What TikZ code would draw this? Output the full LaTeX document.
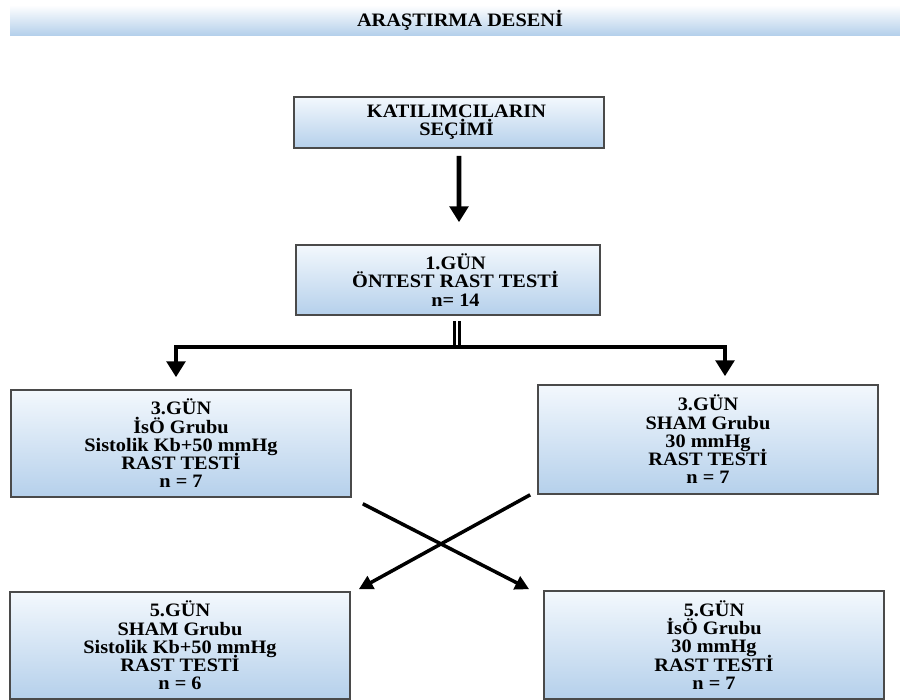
\documentclass[tikz,border=0pt]{standalone}
\usepackage{fontspec}
\setmainfont[FakeStretch=1.07]{Liberation Serif}
\usetikzlibrary{arrows.meta}
\definecolor{kutuust}{HTML}{F3F8FD}
\definecolor{kutualt}{HTML}{B5D0EB}
\definecolor{kenar}{HTML}{4A4A4A}

\begin{document}
\begin{tikzpicture}[
  kutu/.style={draw=kenar, line width=0.9pt, top color=kutuust, bottom color=kutualt,
    align=center, inner sep=0pt, font=\fontsize{10.8}{10.4}\selectfont\bfseries,
    execute at begin node={\lineskiplimit=-20pt}},
  ok/.style={line width=2.8pt, -{Triangle[length=9pt,width=10.5pt]}},
  capraz/.style={line width=2pt, -{Triangle[length=8pt,width=8pt]}}
]
\useasboundingbox (0,0) rectangle (18,-14);

% Title bar
\node[top color=white, bottom color=kutualt, minimum width=17.8cm, minimum height=0.6cm,
  inner sep=0pt, font=\fontsize{10.8}{10.8}\selectfont\bfseries] (baslik) at (9.1,-0.4) {\hspace*{0.2cm}ARAŞTIRMA DESENİ};

% Boxes
\node[kutu, minimum width=6.2cm, minimum height=1.02cm] (b1) at (8.98,-2.45)
  {\hspace*{0.3cm}KATILIMCILARIN\\\hspace*{0.3cm}SEÇİMİ};
\node[kutu, minimum width=6.08cm, minimum height=1.4cm] (b2) at (8.96,-5.6)
  {\hspace*{0.3cm}1.GÜN\\\hspace*{0.3cm}ÖNTEST RAST TESTİ\\\hspace*{0.3cm}n= 14};

\node[kutu, minimum width=6.8cm, minimum height=2.14cm] (b3l) at (3.62,-8.87)
  {3.GÜN\\İsÖ Grubu\\Sistolik Kb+50 mmHg\\RAST TESTİ\\n = 7};
\node[kutu, minimum width=6.8cm, minimum height=2.18cm] (b3r) at (14.16,-8.79)
  {3.GÜN\\SHAM Grubu\\30 mmHg\\RAST TESTİ\\n = 7};

\node[kutu, minimum width=6.8cm, minimum height=2.14cm] (b5l) at (3.6,-12.91)
  {5.GÜN\\SHAM Grubu\\Sistolik Kb+50 mmHg\\RAST TESTİ\\n = 6};
\node[kutu, minimum width=6.8cm, minimum height=2.16cm] (b5r) at (14.28,-12.9)
  {5.GÜN\\İsÖ Grubu\\30 mmHg\\RAST TESTİ\\n = 7};

% Arrow between first two boxes
\draw[ok] ([xshift=0.2cm,yshift=-0.14cm]b1.south) -- ([xshift=0.22cm,yshift=0.44cm]b2.north);

% Split into the two groups
\coordinate (dal) at ([xshift=0.18cm]b2.south |- 0,-6.94);
\draw[double=white, double distance=1.3pt, line width=1.6pt]
  ([xshift=0.18cm,yshift=-0.1cm]b2.south) -- (dal);
\draw[ok] (dal) -| ([xshift=-0.1cm,yshift=0.24cm]b3l.north);
\draw[ok] (dal) -| ([xshift=0.34cm,yshift=0.16cm]b3r.north);

% Crossover arrows
\draw[capraz] ([xshift=0.22cm,yshift=-0.12cm]b3l.south east) -- ([xshift=-0.28cm,yshift=0.02cm]b5r.north west);
\draw[capraz] ([xshift=-0.14cm]b3r.south west) -- ([xshift=0.16cm,yshift=0.04cm]b5l.north east);
\end{tikzpicture}
\end{document}
